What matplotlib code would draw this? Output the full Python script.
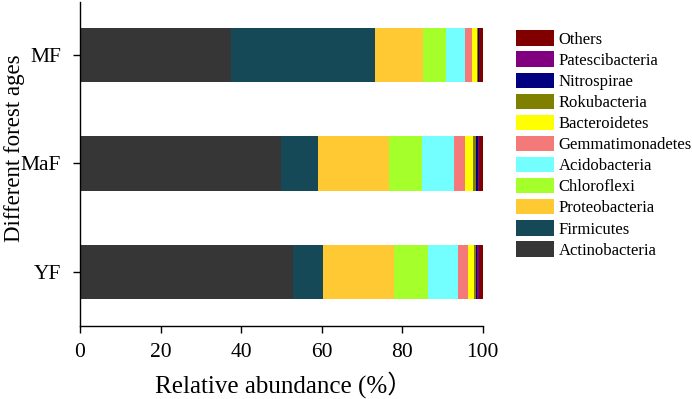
import matplotlib
matplotlib.use("Agg")
import matplotlib.pyplot as plt
import numpy as np

plt.rcParams['font.family'] = ['Liberation Serif', 'Noto Sans CJK SC']

sites = ["YF", "MaF", "MF"]
phyla = ["Actinobacteria", "Firmicutes", "Proteobacteria", "Chloroflexi",
         "Acidobacteria", "Gemmatimonadetes", "Bacteroidetes", "Rokubacteria",
         "Nitrospirae", "Patescibacteria", "Others"]
colors = ["#363636", "#164958", "#FFC933", "#A5FF2A", "#73FFFF", "#F47A7A",
          "#FFFF00", "#808000", "#000080", "#800080", "#800000"]

# values per phylum, order: YF, MaF, MF
actinobacteria   = [53.0, 49.9, 37.5]
firmicutes       = [7.4, 9.2, 35.8]
proteobacteria   = [17.6, 17.7, 11.8]
chloroflexi      = [8.3, 8.2, 5.7]
acidobacteria    = [7.5, 7.8, 4.8]
gemmatimonadetes = [2.5, 2.8, 1.7]
bacteroidetes    = [1.5, 2.0, 1.2]
rokubacteria     = [0.5, 0.8, 0.3]
nitrospirae      = [0.4, 0.5, 0.2]
patescibacteria  = [0.3, 0.2, 0.2]
others           = [1.0, 0.9, 0.8]

series = [actinobacteria, firmicutes, proteobacteria, chloroflexi, acidobacteria,
          gemmatimonadetes, bacteroidetes, rokubacteria, nitrospirae,
          patescibacteria, others]

fig = plt.figure(figsize=(6.92, 3.99), dpi=100)
ax = fig.add_axes([80/692, 73/399, (482.7-80)/692, (326-2)/399])

y = np.arange(len(sites))
left = np.zeros(len(sites))
handles = []
for name, vals, c in zip(phyla, series, colors):
    h = ax.barh(y, vals, left=left, height=0.5, color=c, label=name)
    handles.append(h)
    left += np.array(vals)

ax.set_xlim(0, 100)
ax.set_ylim(-0.5, 2.49)
ax.set_yticks(y)
ax.set_yticklabels(sites)
ax.set_xticks([0, 20, 40, 60, 80, 100])
ax.tick_params(axis='both', labelsize=15.5, direction='out', length=5, width=1)
ax.tick_params(axis='y', pad=8.5)
ax.tick_params(axis='x', pad=7)
ax.spines['top'].set_visible(False)
ax.spines['right'].set_visible(False)
ax.spines['left'].set_linewidth(1)
ax.spines['bottom'].set_linewidth(1)

ax.set_xlabel("Relative abundance (%）", fontsize=18)
ax.xaxis.set_label_coords(0.505, -0.14)
ax.set_ylabel("Different forest ages", fontsize=16.5)
ax.yaxis.set_label_coords(-0.137, 0.549)

leg = fig.legend(handles[::-1], phyla[::-1], loc='upper left',
                 bbox_to_anchor=(513/692, 1 - 27/399), frameon=False,
                 fontsize=12, handlelength=2.25, handleheight=1.05,
                 labelspacing=0.22, handletextpad=0.3, borderaxespad=0,
                 borderpad=0.2)

fig.savefig("out.png", dpi=100)
